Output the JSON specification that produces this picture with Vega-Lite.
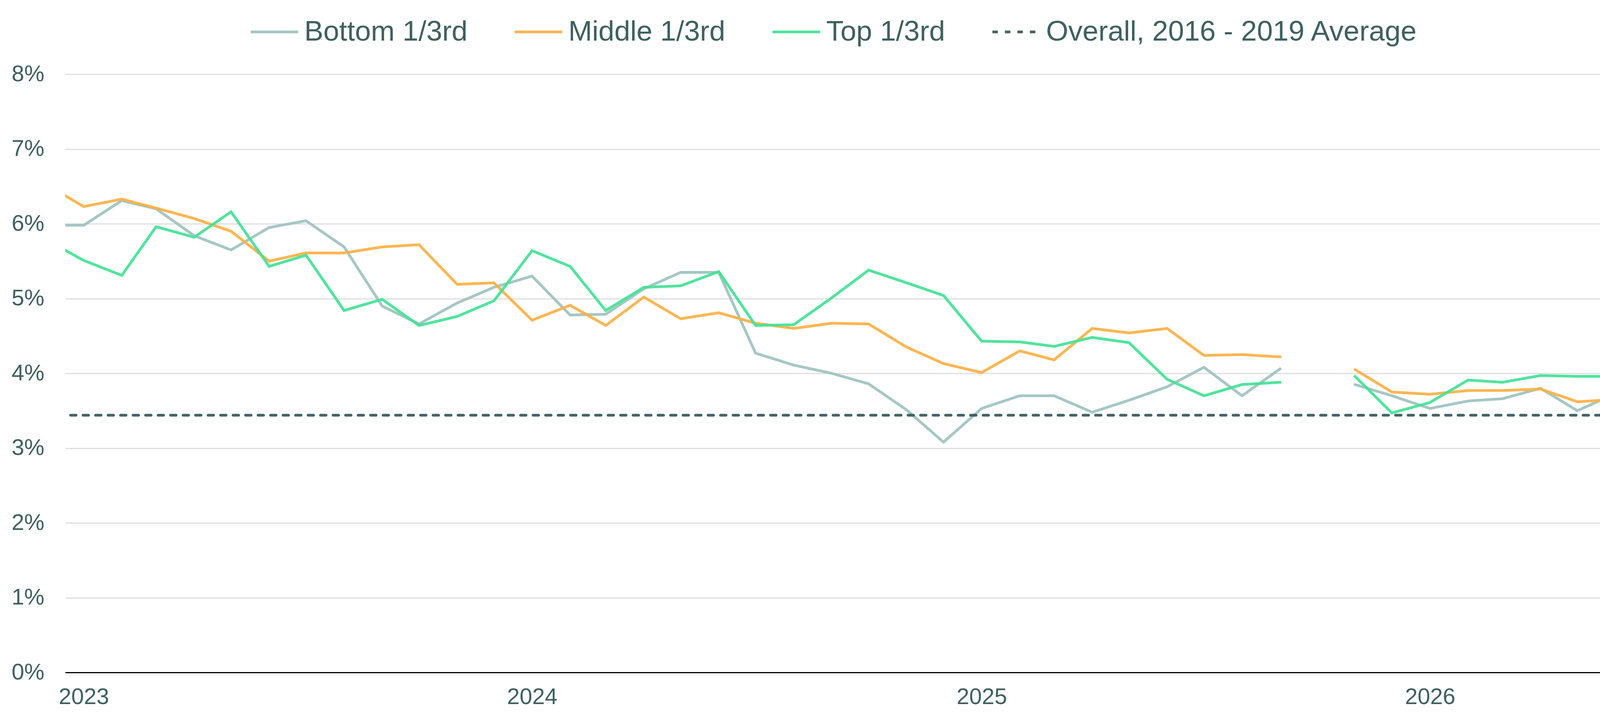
{
  "$schema": "https://vega.github.io/schema/vega-lite/v6.json",
  "width": 4022,
  "height": 1532,
  "autosize": "none",
  "padding": {"left": 167, "top": 190, "right": 51, "bottom": 132},
  "background": "white",
  "config": {
    "font": "Liberation Sans",
    "view": {"stroke": null},
    "axis": {
      "labelFont": "Liberation Sans",
      "labelColor": "#3f6060",
      "labelFontSize": 58,
      "title": null
    },
    "legend": {
      "orient": "none",
      "direction": "horizontal",
      "legendX": 471,
      "legendY": -173,
      "title": null,
      "padding": 0,
      "labelFont": "Liberation Sans",
      "labelFontSize": 73,
      "labelColor": "#3f6060",
      "labelLimit": 0,
      "labelOffset": 12,
      "columnPadding": 106,
      "symbolType": "stroke",
      "symbolSize": 14884,
      "symbolStrokeWidth": 7
    }
  },
  "data": {
    "values": [
      {"month": "2022-12-01", "group": "Bottom 1/3rd", "period": 1, "rate": 5.98},
      {"month": "2023-01-01", "group": "Bottom 1/3rd", "period": 1, "rate": 5.98},
      {"month": "2023-02-01", "group": "Bottom 1/3rd", "period": 1, "rate": 6.31},
      {"month": "2023-03-01", "group": "Bottom 1/3rd", "period": 1, "rate": 6.2},
      {"month": "2023-04-01", "group": "Bottom 1/3rd", "period": 1, "rate": 5.84},
      {"month": "2023-05-01", "group": "Bottom 1/3rd", "period": 1, "rate": 5.65},
      {"month": "2023-06-01", "group": "Bottom 1/3rd", "period": 1, "rate": 5.95},
      {"month": "2023-07-01", "group": "Bottom 1/3rd", "period": 1, "rate": 6.04},
      {"month": "2023-08-01", "group": "Bottom 1/3rd", "period": 1, "rate": 5.69},
      {"month": "2023-09-01", "group": "Bottom 1/3rd", "period": 1, "rate": 4.9},
      {"month": "2023-10-01", "group": "Bottom 1/3rd", "period": 1, "rate": 4.66},
      {"month": "2023-11-01", "group": "Bottom 1/3rd", "period": 1, "rate": 4.94},
      {"month": "2023-12-01", "group": "Bottom 1/3rd", "period": 1, "rate": 5.15},
      {"month": "2024-01-01", "group": "Bottom 1/3rd", "period": 1, "rate": 5.3},
      {"month": "2024-02-01", "group": "Bottom 1/3rd", "period": 1, "rate": 4.78},
      {"month": "2024-03-01", "group": "Bottom 1/3rd", "period": 1, "rate": 4.79},
      {"month": "2024-04-01", "group": "Bottom 1/3rd", "period": 1, "rate": 5.13},
      {"month": "2024-05-01", "group": "Bottom 1/3rd", "period": 1, "rate": 5.35},
      {"month": "2024-06-01", "group": "Bottom 1/3rd", "period": 1, "rate": 5.35},
      {"month": "2024-07-01", "group": "Bottom 1/3rd", "period": 1, "rate": 4.27},
      {"month": "2024-08-01", "group": "Bottom 1/3rd", "period": 1, "rate": 4.11},
      {"month": "2024-09-01", "group": "Bottom 1/3rd", "period": 1, "rate": 4.0},
      {"month": "2024-10-01", "group": "Bottom 1/3rd", "period": 1, "rate": 3.86},
      {"month": "2024-11-01", "group": "Bottom 1/3rd", "period": 1, "rate": 3.51},
      {"month": "2024-12-01", "group": "Bottom 1/3rd", "period": 1, "rate": 3.08},
      {"month": "2025-01-01", "group": "Bottom 1/3rd", "period": 1, "rate": 3.53},
      {"month": "2025-02-01", "group": "Bottom 1/3rd", "period": 1, "rate": 3.7},
      {"month": "2025-03-01", "group": "Bottom 1/3rd", "period": 1, "rate": 3.7},
      {"month": "2025-04-01", "group": "Bottom 1/3rd", "period": 1, "rate": 3.48},
      {"month": "2025-05-01", "group": "Bottom 1/3rd", "period": 1, "rate": 3.64},
      {"month": "2025-06-01", "group": "Bottom 1/3rd", "period": 1, "rate": 3.82},
      {"month": "2025-07-01", "group": "Bottom 1/3rd", "period": 1, "rate": 4.08},
      {"month": "2025-08-01", "group": "Bottom 1/3rd", "period": 1, "rate": 3.7},
      {"month": "2025-09-01", "group": "Bottom 1/3rd", "period": 1, "rate": 4.06},
      {"month": "2025-11-01", "group": "Bottom 1/3rd", "period": 2, "rate": 3.85},
      {"month": "2025-12-01", "group": "Bottom 1/3rd", "period": 2, "rate": 3.7},
      {"month": "2026-01-01", "group": "Bottom 1/3rd", "period": 2, "rate": 3.53},
      {"month": "2026-02-01", "group": "Bottom 1/3rd", "period": 2, "rate": 3.63},
      {"month": "2026-03-01", "group": "Bottom 1/3rd", "period": 2, "rate": 3.66},
      {"month": "2026-04-01", "group": "Bottom 1/3rd", "period": 2, "rate": 3.8},
      {"month": "2026-05-01", "group": "Bottom 1/3rd", "period": 2, "rate": 3.5},
      {"month": "2026-06-01", "group": "Bottom 1/3rd", "period": 2, "rate": 3.73},

      {"month": "2022-12-01", "group": "Middle 1/3rd", "period": 1, "rate": 6.53},
      {"month": "2023-01-01", "group": "Middle 1/3rd", "period": 1, "rate": 6.23},
      {"month": "2023-02-01", "group": "Middle 1/3rd", "period": 1, "rate": 6.33},
      {"month": "2023-03-01", "group": "Middle 1/3rd", "period": 1, "rate": 6.21},
      {"month": "2023-04-01", "group": "Middle 1/3rd", "period": 1, "rate": 6.07},
      {"month": "2023-05-01", "group": "Middle 1/3rd", "period": 1, "rate": 5.9},
      {"month": "2023-06-01", "group": "Middle 1/3rd", "period": 1, "rate": 5.5},
      {"month": "2023-07-01", "group": "Middle 1/3rd", "period": 1, "rate": 5.61},
      {"month": "2023-08-01", "group": "Middle 1/3rd", "period": 1, "rate": 5.61},
      {"month": "2023-09-01", "group": "Middle 1/3rd", "period": 1, "rate": 5.69},
      {"month": "2023-10-01", "group": "Middle 1/3rd", "period": 1, "rate": 5.72},
      {"month": "2023-11-01", "group": "Middle 1/3rd", "period": 1, "rate": 5.19},
      {"month": "2023-12-01", "group": "Middle 1/3rd", "period": 1, "rate": 5.21},
      {"month": "2024-01-01", "group": "Middle 1/3rd", "period": 1, "rate": 4.71},
      {"month": "2024-02-01", "group": "Middle 1/3rd", "period": 1, "rate": 4.91},
      {"month": "2024-03-01", "group": "Middle 1/3rd", "period": 1, "rate": 4.64},
      {"month": "2024-04-01", "group": "Middle 1/3rd", "period": 1, "rate": 5.02},
      {"month": "2024-05-01", "group": "Middle 1/3rd", "period": 1, "rate": 4.73},
      {"month": "2024-06-01", "group": "Middle 1/3rd", "period": 1, "rate": 4.81},
      {"month": "2024-07-01", "group": "Middle 1/3rd", "period": 1, "rate": 4.67},
      {"month": "2024-08-01", "group": "Middle 1/3rd", "period": 1, "rate": 4.6},
      {"month": "2024-09-01", "group": "Middle 1/3rd", "period": 1, "rate": 4.67},
      {"month": "2024-10-01", "group": "Middle 1/3rd", "period": 1, "rate": 4.66},
      {"month": "2024-11-01", "group": "Middle 1/3rd", "period": 1, "rate": 4.35},
      {"month": "2024-12-01", "group": "Middle 1/3rd", "period": 1, "rate": 4.13},
      {"month": "2025-01-01", "group": "Middle 1/3rd", "period": 1, "rate": 4.01},
      {"month": "2025-02-01", "group": "Middle 1/3rd", "period": 1, "rate": 4.3},
      {"month": "2025-03-01", "group": "Middle 1/3rd", "period": 1, "rate": 4.18},
      {"month": "2025-04-01", "group": "Middle 1/3rd", "period": 1, "rate": 4.6},
      {"month": "2025-05-01", "group": "Middle 1/3rd", "period": 1, "rate": 4.54},
      {"month": "2025-06-01", "group": "Middle 1/3rd", "period": 1, "rate": 4.6},
      {"month": "2025-07-01", "group": "Middle 1/3rd", "period": 1, "rate": 4.24},
      {"month": "2025-08-01", "group": "Middle 1/3rd", "period": 1, "rate": 4.25},
      {"month": "2025-09-01", "group": "Middle 1/3rd", "period": 1, "rate": 4.22},
      {"month": "2025-11-01", "group": "Middle 1/3rd", "period": 2, "rate": 4.05},
      {"month": "2025-12-01", "group": "Middle 1/3rd", "period": 2, "rate": 3.75},
      {"month": "2026-01-01", "group": "Middle 1/3rd", "period": 2, "rate": 3.72},
      {"month": "2026-02-01", "group": "Middle 1/3rd", "period": 2, "rate": 3.77},
      {"month": "2026-03-01", "group": "Middle 1/3rd", "period": 2, "rate": 3.77},
      {"month": "2026-04-01", "group": "Middle 1/3rd", "period": 2, "rate": 3.79},
      {"month": "2026-05-01", "group": "Middle 1/3rd", "period": 2, "rate": 3.62},
      {"month": "2026-06-01", "group": "Middle 1/3rd", "period": 2, "rate": 3.65},

      {"month": "2022-12-01", "group": "Top 1/3rd", "period": 1, "rate": 5.79},
      {"month": "2023-01-01", "group": "Top 1/3rd", "period": 1, "rate": 5.51},
      {"month": "2023-02-01", "group": "Top 1/3rd", "period": 1, "rate": 5.31},
      {"month": "2023-03-01", "group": "Top 1/3rd", "period": 1, "rate": 5.96},
      {"month": "2023-04-01", "group": "Top 1/3rd", "period": 1, "rate": 5.82},
      {"month": "2023-05-01", "group": "Top 1/3rd", "period": 1, "rate": 6.16},
      {"month": "2023-06-01", "group": "Top 1/3rd", "period": 1, "rate": 5.43},
      {"month": "2023-07-01", "group": "Top 1/3rd", "period": 1, "rate": 5.58},
      {"month": "2023-08-01", "group": "Top 1/3rd", "period": 1, "rate": 4.84},
      {"month": "2023-09-01", "group": "Top 1/3rd", "period": 1, "rate": 4.99},
      {"month": "2023-10-01", "group": "Top 1/3rd", "period": 1, "rate": 4.64},
      {"month": "2023-11-01", "group": "Top 1/3rd", "period": 1, "rate": 4.76},
      {"month": "2023-12-01", "group": "Top 1/3rd", "period": 1, "rate": 4.97},
      {"month": "2024-01-01", "group": "Top 1/3rd", "period": 1, "rate": 5.64},
      {"month": "2024-02-01", "group": "Top 1/3rd", "period": 1, "rate": 5.43},
      {"month": "2024-03-01", "group": "Top 1/3rd", "period": 1, "rate": 4.84},
      {"month": "2024-04-01", "group": "Top 1/3rd", "period": 1, "rate": 5.15},
      {"month": "2024-05-01", "group": "Top 1/3rd", "period": 1, "rate": 5.17},
      {"month": "2024-06-01", "group": "Top 1/3rd", "period": 1, "rate": 5.36},
      {"month": "2024-07-01", "group": "Top 1/3rd", "period": 1, "rate": 4.64},
      {"month": "2024-08-01", "group": "Top 1/3rd", "period": 1, "rate": 4.65},
      {"month": "2024-09-01", "group": "Top 1/3rd", "period": 1, "rate": 5.01},
      {"month": "2024-10-01", "group": "Top 1/3rd", "period": 1, "rate": 5.38},
      {"month": "2024-11-01", "group": "Top 1/3rd", "period": 1, "rate": 5.21},
      {"month": "2024-12-01", "group": "Top 1/3rd", "period": 1, "rate": 5.04},
      {"month": "2025-01-01", "group": "Top 1/3rd", "period": 1, "rate": 4.43},
      {"month": "2025-02-01", "group": "Top 1/3rd", "period": 1, "rate": 4.42},
      {"month": "2025-03-01", "group": "Top 1/3rd", "period": 1, "rate": 4.36},
      {"month": "2025-04-01", "group": "Top 1/3rd", "period": 1, "rate": 4.48},
      {"month": "2025-05-01", "group": "Top 1/3rd", "period": 1, "rate": 4.41},
      {"month": "2025-06-01", "group": "Top 1/3rd", "period": 1, "rate": 3.92},
      {"month": "2025-07-01", "group": "Top 1/3rd", "period": 1, "rate": 3.7},
      {"month": "2025-08-01", "group": "Top 1/3rd", "period": 1, "rate": 3.85},
      {"month": "2025-09-01", "group": "Top 1/3rd", "period": 1, "rate": 3.88},
      {"month": "2025-11-01", "group": "Top 1/3rd", "period": 2, "rate": 3.96},
      {"month": "2025-12-01", "group": "Top 1/3rd", "period": 2, "rate": 3.47},
      {"month": "2026-01-01", "group": "Top 1/3rd", "period": 2, "rate": 3.61},
      {"month": "2026-02-01", "group": "Top 1/3rd", "period": 2, "rate": 3.91},
      {"month": "2026-03-01", "group": "Top 1/3rd", "period": 2, "rate": 3.88},
      {"month": "2026-04-01", "group": "Top 1/3rd", "period": 2, "rate": 3.97},
      {"month": "2026-05-01", "group": "Top 1/3rd", "period": 2, "rate": 3.96},
      {"month": "2026-06-01", "group": "Top 1/3rd", "period": 2, "rate": 3.96},

      {"month": "2022-12-01", "group": "Overall, 2016 - 2019 Average", "period": 1, "rate": 3.44},
      {"month": "2026-06-01", "group": "Overall, 2016 - 2019 Average", "period": 1, "rate": 3.44}
    ]
  },
  "mark": {"type": "line", "strokeWidth": 7, "strokeCap": "round", "strokeJoin": "miter", "clip": true, "opacity": 0.93},
  "encoding": {
    "x": {
      "field": "month",
      "type": "temporal",
      "scale": {
        "type": "utc",
        "domain": [
          {"year": 2022, "month": 12, "date": 17, "utc": true},
          {"year": 2026, "month": 6, "date": 18, "utc": true}
        ]
      },
      "axis": {
        "format": "%Y",
        "tickCount": "year",
        "grid": false,
        "ticks": false,
        "labelFlush": false,
        "labelAlign": "center",
        "labelPadding": 34,
        "domainColor": "#000000",
        "domainWidth": 3
      }
    },
    "y": {
      "field": "rate",
      "type": "quantitative",
      "scale": {"domain": [0, 8], "nice": false, "zero": true},
      "axis": {
        "values": [0, 1, 2, 3, 4, 5, 6, 7, 8],
        "labelExpr": "datum.value + '%'",
        "domain": false,
        "ticks": false,
        "grid": true,
        "gridColor": "#d9d9d9",
        "gridWidth": 2.5,
        "labelPadding": 54
      }
    },
    "color": {
      "field": "group",
      "type": "nominal",
      "title": null,
      "scale": {
        "domain": ["Bottom 1/3rd", "Middle 1/3rd", "Top 1/3rd", "Overall, 2016 - 2019 Average"],
        "range": ["#9dc3c1", "#fdb045", "#43e296", "#375858"]
      }
    },
    "strokeDash": {
      "field": "group",
      "type": "nominal",
      "title": null,
      "scale": {
        "domain": ["Bottom 1/3rd", "Middle 1/3rd", "Top 1/3rd", "Overall, 2016 - 2019 Average"],
        "range": [[1, 0], [1, 0], [1, 0], [14, 18]]
      }
    },
    "detail": {"field": "period", "type": "nominal"}
  }
}
